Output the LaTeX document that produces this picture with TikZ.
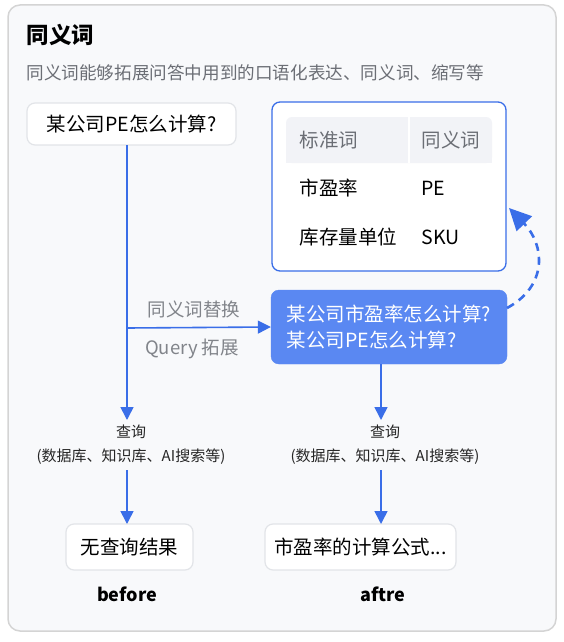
\documentclass[tikz,border=0pt]{standalone}
\usepackage{fontspec}
\setmainfont{Noto Sans CJK SC}
\usetikzlibrary{arrows.meta,positioning}
\definecolor{qblue}{HTML}{3A6EE8}
\definecolor{qfill}{HTML}{5A88F2}
\definecolor{qgray}{HTML}{6B6E75}
\definecolor{qedge}{HTML}{E2E4E8}
\definecolor{qpanel}{HTML}{F8F9FB}
\definecolor{qhead}{HTML}{F2F3F7}
\tikzset{
  card/.style={draw=qedge, line width=1.2pt, fill=white, rounded corners=8pt,
    inner sep=0pt, font=\fontsize{19.5}{24}\selectfont},
  flow/.style={draw=qblue, line width=1.6pt, -{Triangle[length=13pt,width=13pt]}},
  note/.style={font=\fontsize{15}{24}\selectfont, text=black!85, align=center},
  side/.style={font=\fontsize{18.5}{22}\selectfont, text=qgray!85},
  cell/.style={anchor=west, font=\fontsize{19.5}{24}\selectfont},
}
\begin{document}
\begin{tikzpicture}[x=1pt,y=-1pt]
  \useasboundingbox (0,0) rectangle (564,642);
  % panel
  \draw[draw=black!17, line width=1.5pt, fill=qpanel, rounded corners=12pt] (8,5) rectangle (556,631);
  \node[anchor=west, font=\bfseries\fontsize{22.5}{26}\selectfont] (title) at (23,35) {同义词};
  \node[anchor=west, font=\fontsize{17.6}{20}\selectfont, text=qgray] (sub) at (23,73) {同义词能够拓展问答中用到的口语化表达、同义词、缩写等};
  % question
  \node[card, minimum width=209pt, minimum height=42pt] (ask) at (131.5,124) {某公司PE怎么计算?};
  % synonym table
  \draw[draw=qblue, line width=1.3pt, fill=white, rounded corners=8pt] (272,102) rectangle (506,271);
  \fill[qhead, rounded corners=6pt] (286,117) rectangle (492,163);
  \fill[qhead] (286,130) rectangle (492,163);
  \draw[white, line width=2pt] (409,117) -- (409,163);
  \node[cell, text=qgray] (h1) at (296,140) {标准词};
  \node[cell, text=qgray] (h2) at (418,140) {同义词};
  \node[cell] (r1a) at (296,188) {市盈率};
  \node[cell] (r1b) at (418,188) {PE};
  \node[cell] (r2a) at (296,237) {库存量单位};
  \node[cell] (r2b) at (418,237) {SKU};
  \coordinate (tbl) at (509,208);
  % rewritten query
  \node[fill=qfill, draw=qfill, rounded corners=8pt, minimum width=236pt, minimum height=74pt,
    text=white, align=left, font=\fontsize{19.5}{26}\selectfont] (rew) at (389,327)
    {某公司市盈率怎么计算?\\某公司PE怎么计算?};
  \coordinate (back) at (507,308);
  % query steps
  \node[note] (q1) at (131,445) {查询\\(数据库、知识库、AI搜索等)};
  \node[note] (q2) at (385,445) {查询\\(数据库、知识库、AI搜索等)};
  \node[card, minimum width=127pt, minimum height=46pt] (res1) at (129.5,547) {无查询结果};
  \node[card, minimum width=191pt, minimum height=46pt] (res2) at (360.5,547) {市盈率的计算公式...};
  \node[font=\bfseries\fontsize{18}{20}\selectfont] (bef) at (127,594) {before};
  \node[font=\bfseries\fontsize{18}{20}\selectfont] (aft) at (383,594) {aftre};
  % connectors
  \coordinate (turn) at (127,328);
  \draw[flow] (127,145) -- (127,420);
  \draw[flow] (turn) -- (rew.west);
  \node[side, anchor=south] at (194,322) {同义词替换};
  \node[side, anchor=north] at (192,335) {Query 拓展};
  \draw[flow] (381,364) -- (381,420);
  \draw[flow] (127,470) -- (127,524);
  \draw[flow] (381,470) -- (381,524);
  \draw[draw=qblue, line width=2.6pt, dash pattern=on 8pt off 6pt,
    -{Triangle[length=22pt,width=21pt]}]
    (back) .. controls (548,286) and (545,245) .. (tbl);
\end{tikzpicture}
\end{document}
